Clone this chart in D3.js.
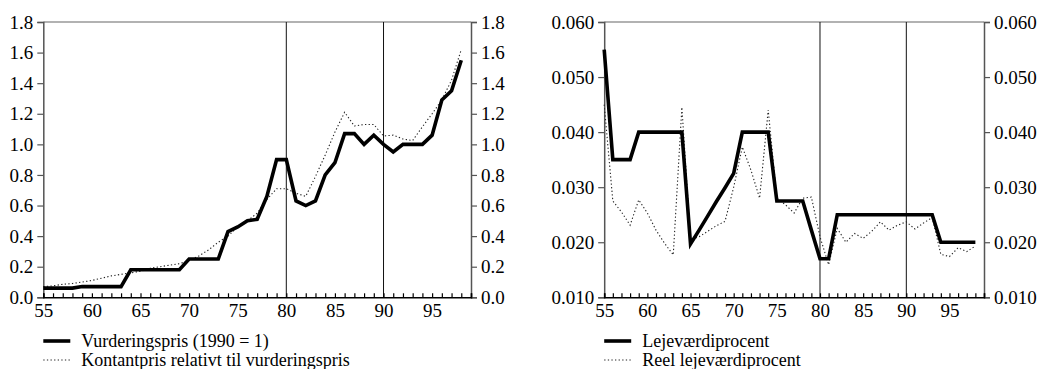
<!DOCTYPE html>
<html><head><meta charset="utf-8">
<script src="https://cdn.jsdelivr.net/npm/d3@7"></script>
<style>
body{margin:0;background:#fff;}
</style></head>
<body><svg id="c" width="1038" height="369"></svg>
<script>
const years = d3.range(55, 99);
const xTicks = [55,60,65,70,75,80,85,90,95];
const refYears = [80, 90];
const leftTicks = [0,0.2,0.4,0.6,0.8,1.0,1.2,1.4,1.6,1.8];
const rightTicks = [0.010,0.020,0.030,0.040,0.050,0.060];

const vurderingspris = [0.06,0.06,0.06,0.06,0.07,0.07,0.07,0.07,0.07,0.18,
  0.18,0.18,0.18,0.18,0.18,0.25,0.25,0.25,0.25,0.43,
  0.46,0.50,0.51,0.66,0.90,0.90,0.63,0.60,0.63,0.80,
  0.88,1.07,1.07,1.00,1.06,1.00,0.95,1.00,1.00,1.00,
  1.06,1.29,1.35,1.55];
const kontantpris = [0.07,0.075,0.085,0.09,0.10,0.11,0.125,0.14,0.15,0.16,
  0.17,0.19,0.20,0.21,0.22,0.24,0.27,0.31,0.36,0.40,
  0.46,0.50,0.55,0.64,0.71,0.71,0.68,0.66,0.79,0.93,
  1.08,1.21,1.12,1.13,1.13,1.055,1.06,1.035,1.025,1.115,
  1.20,1.29,1.42,1.62];
const lejevaerdi = [0.055,0.035,0.035,0.035,0.040,0.040,0.040,0.040,0.040,0.040,
  0.0197,0.0222,0.0248,0.0274,0.0299,0.0325,0.040,0.040,0.040,0.040,
  0.0275,0.0275,0.0275,0.0275,0.0222,0.0170,0.0170,0.025,0.025,0.025,
  0.025,0.025,0.025,0.025,0.025,0.025,0.025,0.025,0.025,0.020,
  0.020,0.020,0.020,0.020];
const reelLejevaerdi = [0.045,0.0275,0.0255,0.0231,0.0277,0.0253,0.0222,0.0198,0.0177,0.0445,
  0.0205,0.021,0.022,0.023,0.0238,0.030,0.0373,0.0331,0.028,0.044,
  0.028,0.0268,0.0253,0.028,0.0282,0.021,0.0159,0.0225,0.0200,0.0216,
  0.0207,0.0220,0.0237,0.0222,0.0231,0.0237,0.0224,0.0235,0.0245,0.0178,
  0.0174,0.0190,0.0183,0.0193];
const legendLeft = ["Vurderingspris (1990 = 1)", "Kontantpris relativt til vurderingspris"];
const legendRight = ["Lejeværdiprocent", "Reel lejeværdiprocent"];

const FONT = "'Liberation Serif', 'DejaVu Serif', 'Times New Roman', serif";
const svg = d3.select("#c");
const plotTop = 22, plotBottom = 297.3;

function panel(x0, x1, yDomain, ticks, fmt, solid, dotted, legend) {
  const x = d3.scaleLinear([55, 99], [x0, x1]);
  const y = d3.scaleLinear(yDomain, [plotBottom, plotTop]);
  const g = svg.append("g");
  g.append("line").attr("x1", x0).attr("x2", x1).attr("y1", plotTop).attr("y2", plotTop)
    .attr("stroke", "#666").attr("stroke-width", 1.2);
  g.selectAll(".ref").data(refYears).join("line")
    .attr("x1", d => x(d)).attr("x2", d => x(d)).attr("y1", plotTop).attr("y2", plotBottom)
    .attr("stroke", "#111").attr("stroke-width", 1);
  const la = g.append("g").attr("transform", `translate(${x0},0)`)
    .call(d3.axisLeft(y).tickValues(ticks).tickFormat(d3.format(fmt)).tickSize(6).tickPadding(4));
  const ra = g.append("g").attr("transform", `translate(${x1},0)`)
    .call(d3.axisRight(y).tickValues(ticks).tickFormat(d3.format(fmt)).tickSize(6).tickPadding(4));
  [la, ra].forEach(a => {
    a.attr("font-family", FONT).attr("font-size", 19);
    a.select(".domain").attr("stroke", "#555").attr("stroke-width", 1.5);
    a.selectAll(".tick line").attr("stroke", "#555").attr("stroke-width", 1.2);
    a.selectAll("text").style("font-family", FONT).style("font-size", "19px").attr("fill", "#000");
  });
  const mb = g.append("g").attr("transform", `translate(0,${plotBottom})`)
    .call(d3.axisBottom(x).tickValues(d3.range(55, 100)).tickSize(-4).tickFormat(""));
  mb.select(".domain").attr("stroke", "#000").attr("stroke-width", 1.6);
  mb.selectAll(".tick line").attr("stroke", "#000").attr("stroke-width", 1.2);
  const bb = g.append("g").attr("transform", `translate(0,${plotBottom})`)
    .call(d3.axisBottom(x).tickValues(xTicks).tickSize(0).tickPadding(6).tickFormat(d3.format("d")));
  bb.attr("font-family", FONT).attr("font-size", 19);
  bb.select(".domain").remove();
  bb.selectAll("text").style("font-family", FONT).style("font-size", "19px").attr("fill", "#000");

  const line = d3.line().x((d, i) => x(years[i])).y(d => y(d));
  g.append("path").datum(dotted).attr("d", line).attr("fill", "none")
    .attr("stroke", "#222").attr("stroke-width", 1.1).attr("stroke-dasharray", "1.3,2.3");
  g.append("path").datum(solid).attr("d", line).attr("fill", "none")
    .attr("stroke", "#000").attr("stroke-width", 3.6).attr("stroke-linejoin", "miter");

  const lg = g.append("g");
  lg.append("line").attr("x1", x0).attr("x2", x0 + 27).attr("y1", 341).attr("y2", 341)
    .attr("stroke", "#000").attr("stroke-width", 3.6);
  lg.append("line").attr("x1", x0).attr("x2", x0 + 27).attr("y1", 360).attr("y2", 360)
    .attr("stroke", "#222").attr("stroke-width", 1.1).attr("stroke-dasharray", "1.3,2.3");
  lg.selectAll("text").data(legend).join("text")
    .attr("x", x0 + 38).attr("y", (d, i) => 346.5 + i * 19)
    .style("font-family", FONT).style("font-size", "18px").attr("fill", "#000").text(d => d);
}

panel(43.3, 471, [0, 1.8], leftTicks, ".1f", vurderingspris, kontantpris, legendLeft);
panel(604.2, 984, [0.01, 0.06], rightTicks, ".3f", lejevaerdi, reelLejevaerdi, legendRight);
</script></body></html>
